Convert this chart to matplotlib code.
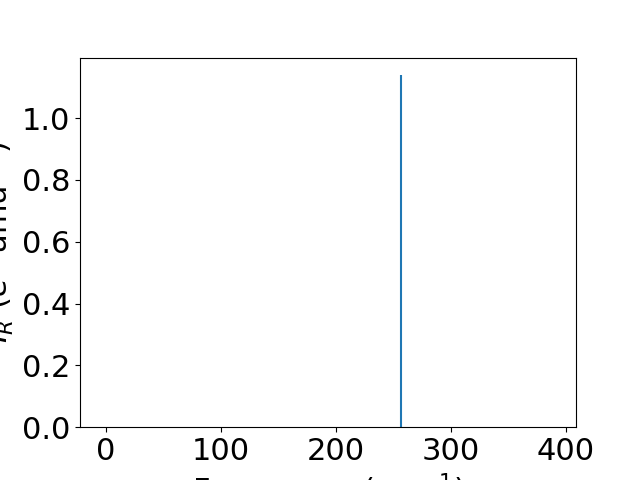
import matplotlib
matplotlib.use('Agg')
import matplotlib.pyplot as plt

# mode frequencies (cm^-1) and IR intensities
freqs = [-2.7, 256.5, 389.4]
intensities = [0.0, 1.139, 0.0]

plt.rcParams['font.size'] = 22

fig, ax = plt.subplots(figsize=(6.4, 4.8), dpi=100)
ax.vlines(freqs, 0, intensities, color='C0')
ax.set_ylim(bottom=0)
ax.set_xlabel('Frequency (cm$^{-1}$)')
ax.set_ylabel('$I_R$ ($e^2$ amu$^{-1}$)')
fig.savefig('out.png')
plt.close()
